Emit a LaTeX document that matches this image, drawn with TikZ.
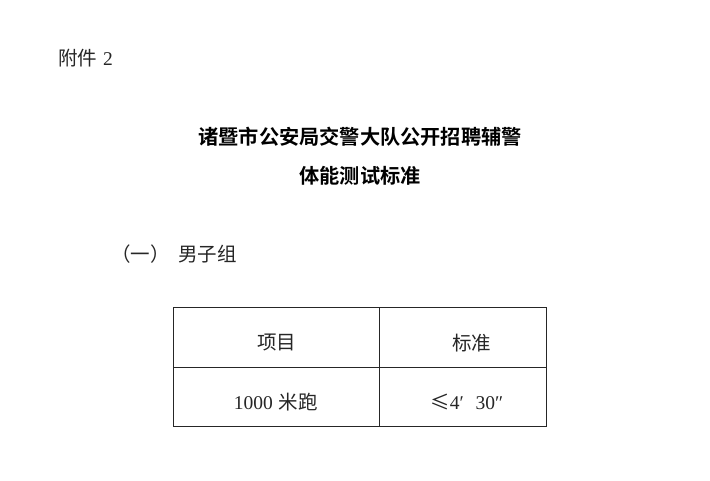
\documentclass[tikz,border=0pt]{standalone}
\usepackage{fontspec}
\setmainfont{Liberation Serif}
\newfontfamily\cjk{Noto Sans CJK SC}
\newfontfamily\cjkb{Noto Sans CJK SC}[BoldFont={* Bold}]
\begin{document}
\begin{tikzpicture}[x=1pt,y=-1pt,
  body/.style={inner sep=0pt, font=\fontsize{19.5}{19.5}\selectfont, text=black!85},
  ttl/.style={inner sep=0pt, font=\cjkb\bfseries\fontsize{20.2}{20.2}\selectfont},
  grid/.style={line width=0.9pt, black!85}]
\useasboundingbox[fill=white] (0,0) rectangle (710,480);
\node[body, anchor=west] (att) at (58,58) {{\cjk 附件}\hspace{0.3em}2};
\node[ttl] (t1) at (360,137) {诸暨市公安局交警大队公开招聘辅警};
\node[ttl] (t2) at (360,176) {体能测试标准};
\node[body, anchor=west] (sec) at (111,254) {\cjk （一）\hspace{0.45em}男子组};
\coordinate (tl) at (173.3,307.3);
\coordinate (br) at (546.7,426.7);
\coordinate (mt) at (379.3,307.3);
\coordinate (mb) at (379.3,426.7);
\coordinate (ml) at (173.3,367.7);
\coordinate (mr) at (546.7,367.7);
\draw[grid] (tl) rectangle (br);
\draw[grid] (mt) -- (mb);
\draw[grid] (ml) -- (mr);
\node[body] (h1) at (276.7,343) {\cjk 项目};
\node[body] (h2) at (471.7,343) {\cjk 标准};
\node[body] (c1) at (275.8,402) {1000\hspace{0.3em}{\cjk 米跑}};
\node[body] (c2) at (466.7,402) {{\cjk ≤}4′\hspace{0.6em}30″};
\end{tikzpicture}
\end{document}
